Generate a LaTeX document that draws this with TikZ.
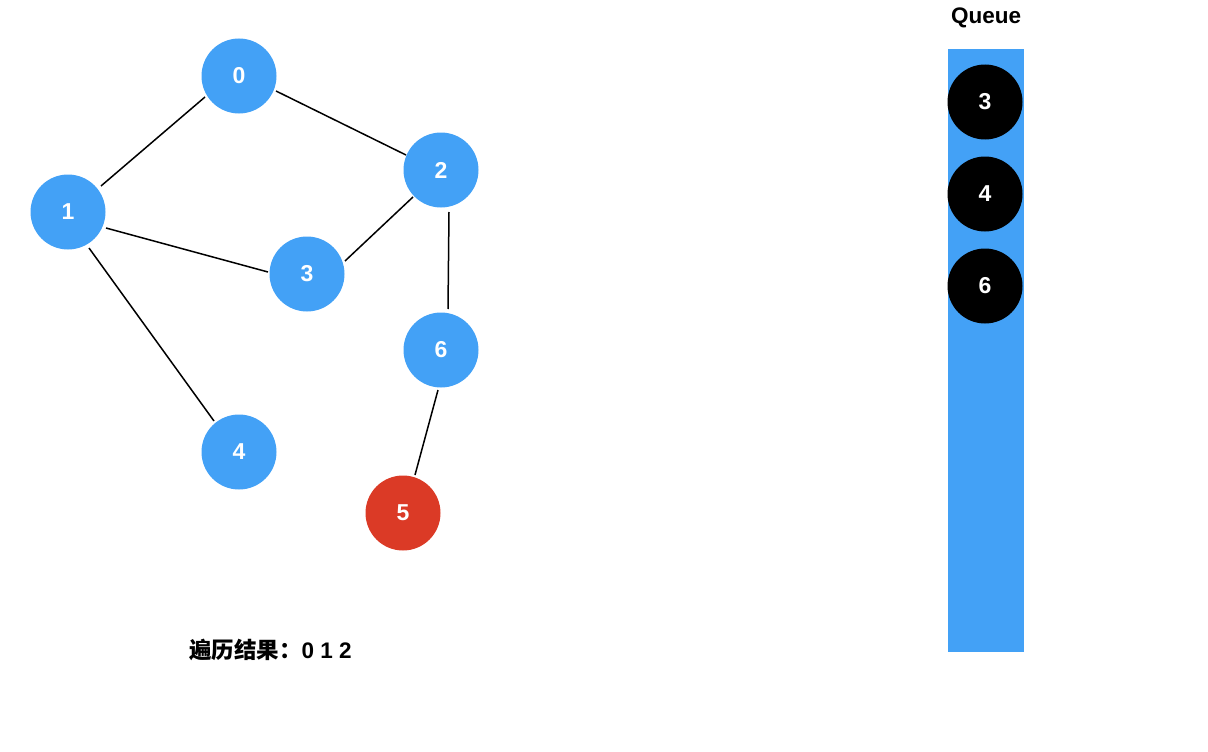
\documentclass[tikz,border=0pt]{standalone}
\usepackage{fontspec}
\setmainfont{Liberation Sans}
\newfontfamily\cjk{Noto Sans CJK SC}
\definecolor{nodeblue}{RGB}{67,161,246}
\definecolor{nodered}{RGB}{219,58,38}
\tikzset{
  vert/.style={circle, fill=nodeblue, minimum size=75pt, inner sep=0pt, text=white, font=\fontsize{23pt}{23pt}\selectfont\bfseries},
  redvert/.style={vert, fill=nodered},
  qitem/.style={vert, fill=black},
  edge/.style={draw=black, line width=1.5pt},
  lbl/.style={font=\fontsize{22.5pt}{22.5pt}\selectfont\bfseries, inner sep=0pt}
}
\begin{document}
\begin{tikzpicture}[x=1pt,y=-1pt]
\useasboundingbox (0,0) rectangle (1208,752);
\node[vert] (n0) at (239,76) {0};
\node[vert] (n1) at (68,212) {1};
\node[vert] (n2) at (441,170) {2};
\node[vert] (n3) at (307,274) {3};
\node[vert] (n6) at (441,350) {6};
\node[vert] (n4) at (239,452) {4};
\node[redvert] (n5) at (403,513) {5};
\draw[edge] ([shift={(-34,21)}]n0.center) -- ([shift={(33,-26)}]n1.center);
\draw[edge] ([shift={(37,15)}]n0.center) -- ([shift={(-35,-15)}]n2.center);
\draw[edge] ([shift={(38,16)}]n1.center) -- ([shift={(-39,-2)}]n3.center);
\draw[edge] ([shift={(-28,27)}]n2.center) -- ([shift={(38,-13)}]n3.center);
\draw[edge] ([shift={(21,36)}]n1.center) -- ([shift={(-25,-31)}]n4.center);
\draw[edge] ([shift={(-3,40)}]n6.center) -- ([shift={(12,-38)}]n5.center);
\draw[edge] ([shift={(8,42)}]n2.center) -- ([shift={(7,-41)}]n6.center);
\node[fill=nodeblue, minimum width=76pt, minimum height=603pt, inner sep=0pt, anchor=north west] (queue) at (948,49) {};
\node[lbl] (qtitle) at (986,18) {Queue};
\node[qitem] (q3) at (985,102) {3};
\node[qitem] (q4) at (985,194) {4};
\node[qitem] (q6) at (985,286) {6};
\node[lbl, anchor=west] (result) at (189,650) {{\cjk\bfseries 遍历结果：}0 1 2};
\end{tikzpicture}
\end{document}
